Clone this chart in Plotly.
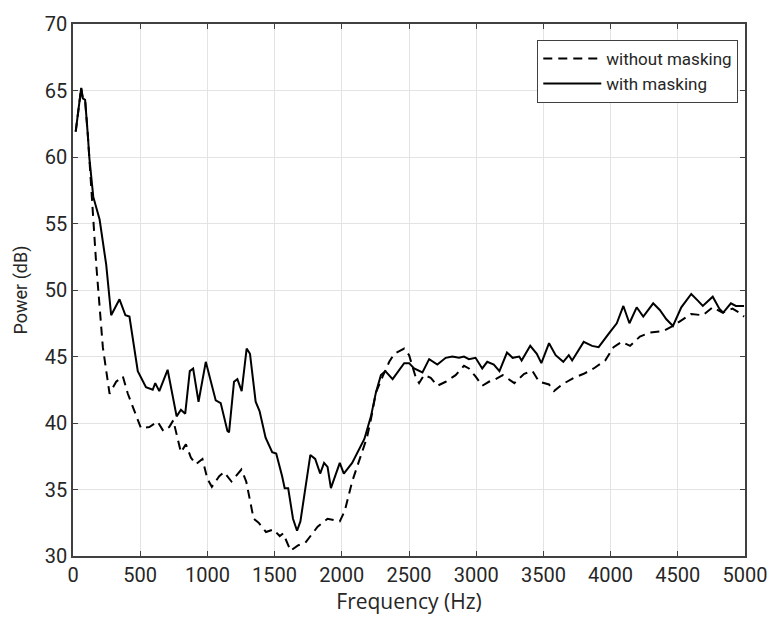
import plotly.graph_objects as go

# with masking (solid)
with_f = [20, 61, 73, 90, 110, 122, 151, 198, 247, 284, 346, 390, 420, 482, 543, 593, 612, 642,
          704, 771, 803, 835, 869, 894, 934, 988, 1062, 1099, 1149, 1161, 1198, 1223, 1255, 1292,
          1317, 1359, 1388, 1433, 1482, 1512, 1556, 1575, 1601, 1637, 1667, 1692, 1766, 1802,
          1839, 1868, 1894, 1919, 1985, 2015, 2077, 2119, 2168, 2217, 2254, 2291, 2324, 2378,
          2415, 2464, 2501, 2538, 2600, 2650, 2711, 2773, 2822, 2872, 2909, 2946, 2995, 3045,
          3082, 3131, 3173, 3229, 3271, 3320, 3338, 3402, 3451, 3485, 3542, 3591, 3648, 3689,
          3714, 3800, 3862, 3911, 3985, 4046, 4095, 4140, 4194, 4243, 4317, 4366, 4415, 4464,
          4526, 4600, 4649, 4686, 4760, 4809, 4838, 4895, 4932, 4993]
with_db = [61.9, 65.2, 64.4, 64.3, 61.7, 59.9, 57.0, 55.3, 51.9, 48.1, 49.3, 48.1, 48.0, 43.9,
           42.7, 42.5, 43.0, 42.4, 44.0, 40.5, 41.0, 40.7, 43.9, 44.1, 41.6, 44.6, 41.7, 41.5,
           39.4, 39.3, 43.1, 43.3, 42.4, 45.6, 45.2, 41.6, 40.9, 38.9, 37.8, 37.7, 36.0, 35.1,
           35.1, 32.8, 31.9, 32.6, 37.6, 37.3, 36.2, 37.0, 36.7, 35.1, 37.0, 36.2, 37.0, 37.8,
           38.8, 40.5, 42.3, 43.6, 43.9, 43.3, 43.8, 44.5, 44.5, 44.1, 43.8, 44.8, 44.4, 44.9,
           45.0, 44.9, 45.0, 44.8, 44.9, 44.1, 44.6, 44.4, 43.9, 45.3, 44.9, 45.0, 44.7, 45.8,
           45.2, 44.5, 46.0, 45.1, 44.6, 45.1, 44.7, 46.1, 45.8, 45.7, 46.7, 47.5, 48.8, 47.5,
           48.7, 48.0, 49.0, 48.5, 47.8, 47.3, 48.7, 49.7, 49.2, 48.8, 49.5, 48.6, 48.3, 49.0,
           48.8, 48.8]

# without masking (dashed)
without_f = [20, 61, 73, 90, 110, 122, 136, 143, 173, 222, 272, 321, 371, 408, 506, 568, 630,
             672, 716, 746, 803, 840, 877, 914, 963, 1000, 1033, 1088, 1124, 1179, 1253, 1289,
             1344, 1381, 1436, 1491, 1538, 1564, 1619, 1674, 1729, 1820, 1894, 1985, 2022, 2077,
             2150, 2187, 2217, 2254, 2304, 2353, 2390, 2464, 2501, 2551, 2575, 2612, 2662, 2711,
             2773, 2847, 2909, 2946, 2995, 3045, 3094, 3144, 3197, 3284, 3357, 3419, 3468, 3542,
             3579, 3640, 3726, 3800, 3874, 3960, 4022, 4083, 4145, 4218, 4292, 4391, 4464, 4538,
             4600, 4686, 4760, 4833, 4907, 4956, 4993]
without_db = [61.9, 65.2, 64.4, 64.3, 61.7, 59.9, 58.2, 56.9, 51.9, 45.7, 42.2, 43.1, 43.5, 42.2,
              39.6, 39.7, 40.1, 39.4, 39.7, 40.2, 37.8, 38.4, 37.4, 36.9, 37.3, 35.8, 35.2, 36.0,
              36.3, 35.6, 36.5, 35.6, 32.8, 32.5, 31.8, 32.0, 31.5, 31.7, 30.4, 30.8, 31.0, 32.2,
              32.8, 32.6, 33.4, 35.6, 37.7, 38.9, 40.3, 42.3, 43.5, 44.6, 45.2, 45.6, 45.1, 43.4,
              43.0, 43.6, 43.4, 42.8, 43.1, 43.6, 44.3, 44.1, 43.5, 42.8, 43.1, 43.3, 43.6, 43.0,
              43.7, 43.9, 43.1, 42.9, 42.4, 42.9, 43.4, 43.7, 44.1, 44.7, 45.7, 46.1, 45.8, 46.5,
              46.8, 46.9, 47.3, 47.8, 48.2, 48.1, 48.7, 48.3, 48.6, 48.3, 48.0]

x_ticks = [0, 500, 1000, 1500, 2000, 2500, 3000, 3500, 4000, 4500, 5000]
y_ticks = [30, 35, 40, 45, 50, 55, 60, 65, 70]

TEXT = "#262626"
AXIS = "#404040"
GRID = "#e3e3e3"

fig = go.Figure()
fig.add_trace(go.Scatter(x=without_f, y=without_db, mode="lines", name="without masking",
                         line=dict(color="black", width=2, dash="9px,6px")))
fig.add_trace(go.Scatter(x=with_f, y=with_db, mode="lines", name="with masking",
                         line=dict(color="black", width=2)))

axis_common = dict(showline=True, linecolor=AXIS, linewidth=1.5, mirror="ticks",
                   ticks="inside", ticklen=5, tickcolor=AXIS, showgrid=True,
                   gridcolor=GRID, gridwidth=1, zeroline=False,
                   tickfont=dict(family="Roboto", size=20, color=TEXT))

fig.update_xaxes(range=[0, 5000], tickvals=x_ticks,
                 title=dict(text="Frequency (Hz)", font=dict(family="Open Sans", size=21, color=TEXT),
                            standoff=8),
                 **axis_common)
fig.update_yaxes(range=[30, 70], tickvals=y_ticks,
                 title=dict(text="Power (dB)", font=dict(family="Roboto", size=18, color=TEXT),
                            standoff=12),
                 **axis_common)

fig.update_layout(
    width=779, height=621,
    margin=dict(l=73, r=27, t=22, b=64),
    paper_bgcolor="white", plot_bgcolor="white",
    showlegend=True,
    legend=dict(x=0.99, y=0.97, xanchor="right", yanchor="top",
                bgcolor="white", bordercolor=AXIS, borderwidth=1,
                font=dict(family="Roboto", size=17, color=TEXT),
                tracegroupgap=0, itemwidth=58),
)

fig.write_html("out.html")
